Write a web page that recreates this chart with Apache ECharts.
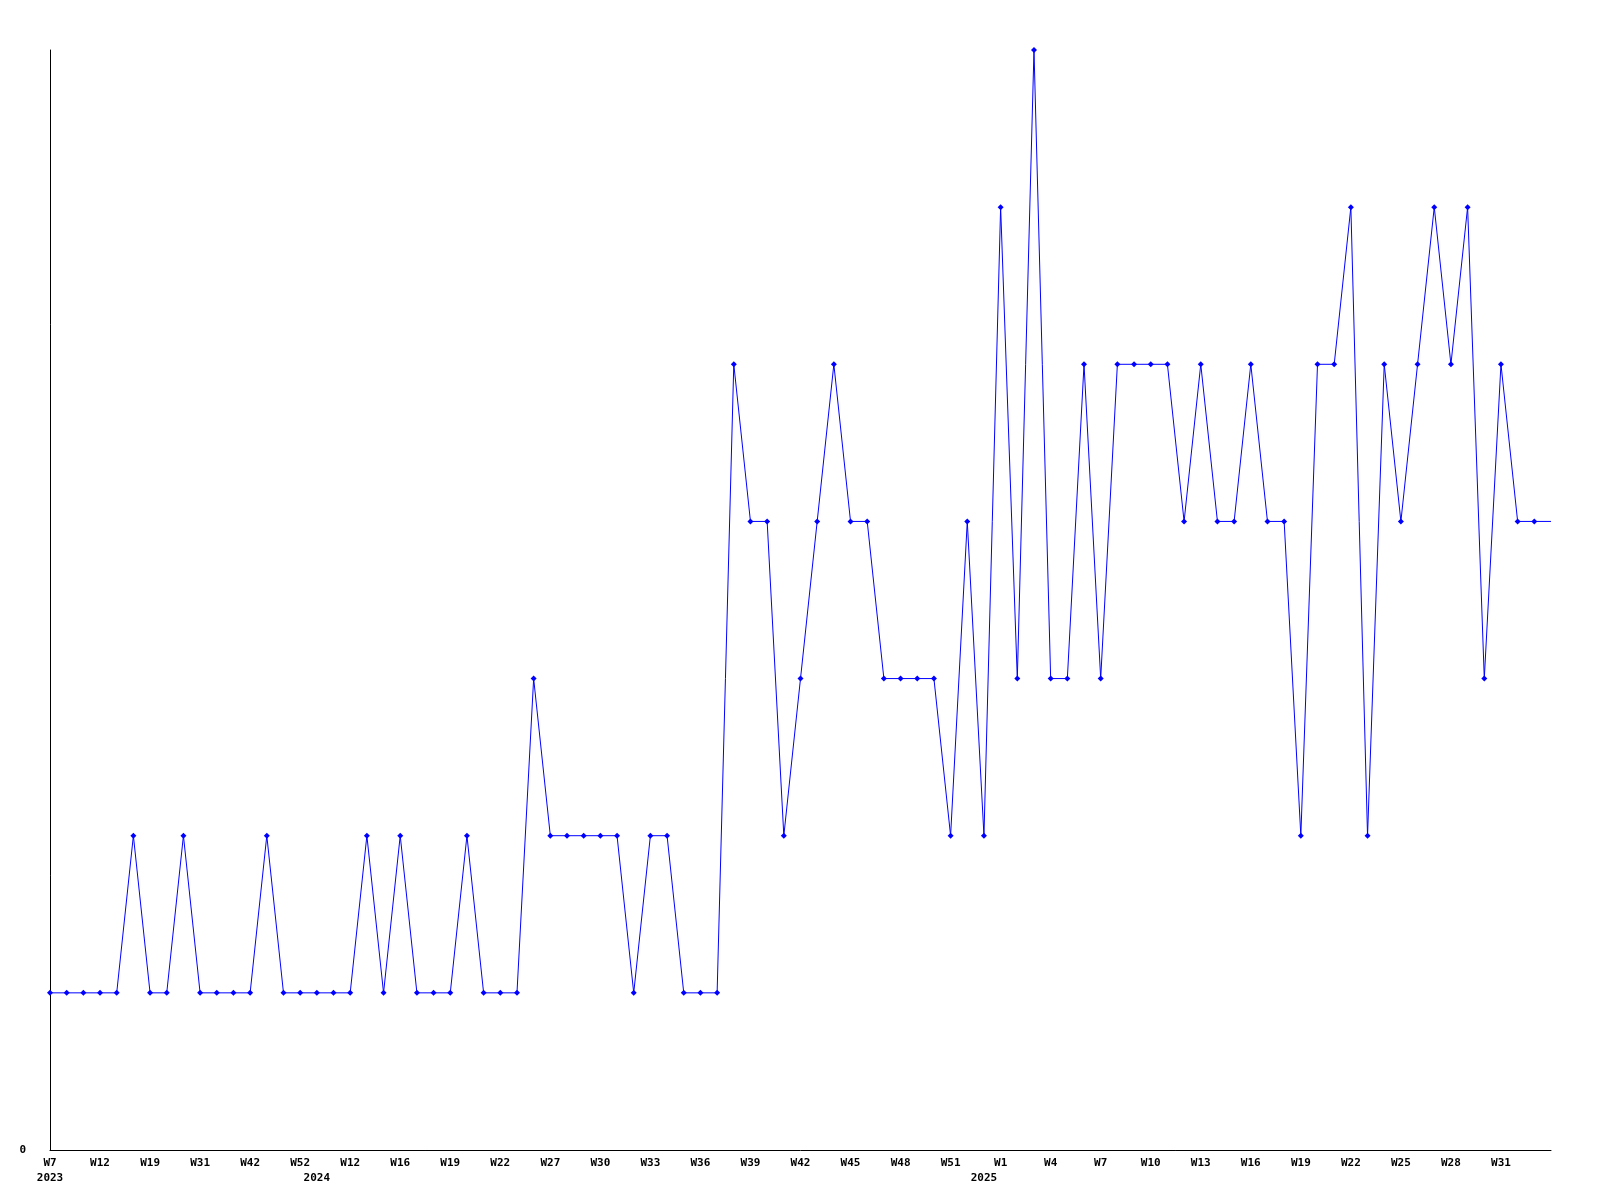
<!DOCTYPE html>
<html>
<head>
<meta charset="utf-8">
<script src="https://cdn.jsdelivr.net/npm/echarts@6/dist/echarts.min.js"></script>
<style>
  html, body { margin: 0; padding: 0; background: #ffffff; }
  #chart { width: 1600px; height: 1200px; }
</style>
</head>
<body>
<div id="chart"></div>
<script>
// Week categories (every 3rd one is labelled in the reference)
const weeks = [
  'W7','W9','W11','W12','W14','W17','W19','W23','W27','W31','W35','W38','W42','W45','W49','W52',
  'W3','W8','W12','W14','W15','W16','W17','W18','W19','W20','W21','W22','W24','W25',
  'W27','W28','W29','W30','W31','W32','W33','W34','W35','W36','W37','W38','W39','W40','W41',
  'W42','W43','W44','W45','W46','W47','W48','W49','W50','W51','W52','W0',
  'W1','W2','W3','W4','W5','W6','W7','W8','W9','W10','W11','W12','W13','W14','W15',
  'W16','W17','W18','W19','W20','W21','W22','W23','W24','W25','W26','W27','W28','W29','W30',
  'W31','W32','W33','W34'
];
// Year labels, placed under the first week of each year
const yearNames = ['2023', '2024', '2025'];
const yearStartIndex = [0, 16, 56];
// Last category index that carries a week label
const lastWeekLabelIndex = 87;

// Series values
const values = [
  1,1,1,1,1,2,1,1,2,1,1,1,1,2,1,1,1,1,1,2,1,2,1,1,1,2,1,1,1,3,
  2,2,2,2,2,1,2,2,1,1,1,5,4,4,2,3,4,5,4,4,3,3,3,3,2,4,2,6,3,7,
  3,3,5,3,5,5,5,5,4,5,4,4,5,4,4,2,5,5,6,2,5,4,5,6,5,6,3,5,4,4,
  4
];

const seriesData = values.map((v, i) =>
  i === values.length - 1 ? { value: v, symbol: 'none' } : v
);

function hasWeekLabel(idx) { return idx % 3 === 0 && idx <= lastWeekLabelIndex; }

const chart = echarts.init(document.getElementById('chart'), null, { renderer: 'canvas' });
const labelFont = { fontFamily: 'DejaVu Sans Mono', fontWeight: 'bold', fontSize: 11, color: '#000000' };

chart.setOption({
  animation: false,
  backgroundColor: '#ffffff',
  grid: { left: 50, right: 49, top: 50, bottom: 50, containLabel: false },
  xAxis: {
    type: 'category',
    data: weeks,
    boundaryGap: false,
    axisLine: { show: true, lineStyle: { color: '#000000', width: 1 } },
    axisTick: { show: false },
    splitLine: { show: false },
    axisLabel: Object.assign({}, labelFont, {
      interval: function (idx) { return hasWeekLabel(idx) || yearStartIndex.indexOf(idx) >= 0; },
      hideOverlap: false,
      margin: 6,
      lineHeight: 15,
      formatter: function (val, idx) {
        const y = yearStartIndex.indexOf(idx);
        const top = hasWeekLabel(idx) ? val : ' ';
        return y >= 0 ? top + '\n' + yearNames[y] : top;
      }
    })
  },
  yAxis: {
    type: 'value',
    min: 0,
    max: 7,
    interval: 1,
    axisLine: { show: true, lineStyle: { color: '#000000', width: 1 } },
    axisTick: { show: false },
    splitLine: { show: false },
    axisLabel: Object.assign({}, labelFont, {
      margin: 24,
      formatter: function (v) { return v === 0 ? '0' : ''; }
    })
  },
  series: [{
    type: 'line',
    data: seriesData,
    symbol: 'diamond',
    symbolSize: 6,
    showAllSymbol: true,
    lineStyle: { color: '#0000ff', width: 1 },
    itemStyle: { color: '#0000ff' },
    emphasis: { disabled: true }
  }]
});
</script>
</body>
</html>
